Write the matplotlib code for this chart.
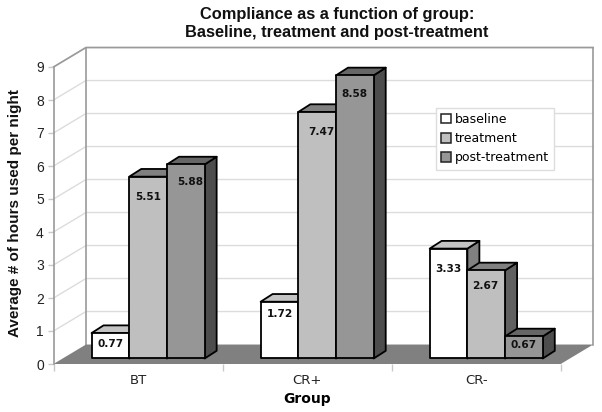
import matplotlib
matplotlib.use('Agg')
import matplotlib.pyplot as plt
from matplotlib.patches import Polygon, Patch

groups = ['BT', 'CR+', 'CR-']
series = ['baseline', 'treatment', 'post-treatment']
baseline = [0.77, 1.72, 3.33]
treatment = [5.51, 7.47, 2.67]
post_treatment = [5.88, 8.58, 0.67]
y_ticks = [0, 1, 2, 3, 4, 5, 6, 7, 8, 9]

# front, top, side shades for each series
shades = [('#ffffff', '#c4c4c4', '#808080'),
          ('#bfbfbf', '#808080', '#606060'),
          ('#969696', '#666666', '#4d4d4d')]

# label nudges in pixels (dx, drop below bar top), by series then group
nudges = [[(0, 11), (0, 12), (0, 20)],
          [(0, 20), (4, 20), (-1, 16)],
          [(4, 18), (0, 19), (0, 9)]]

plt.rcParams['font.family'] = ['Liberation Sans', 'DejaVu Sans']

fig = plt.figure(figsize=(6.02, 4.12), dpi=100)
ax = fig.add_axes([53.5 / 602, 48 / 412, 507.2 / 602, 297 / 412])
ax.set_xlim(0, 3)
ax.set_ylim(0, 9)
ax.patch.set_visible(False)

wall_dx = 0.192
wall_dy = 0.59
bar_dx = 0.071
bar_dy = 0.233
bar_w = 0.223
bar_start = 0.225
bar_base = 0.167

# walls, floor and gridlines
ax.add_patch(Polygon([(0, 0), (wall_dx, wall_dy), (3 + wall_dx, wall_dy), (3, 0)],
                     closed=True, fc='#808080', ec='none', clip_on=False, zorder=1))
for v in y_ticks[1:]:
    ax.plot([0, wall_dx, 3 + wall_dx], [v, v + wall_dy, v + wall_dy],
            color='#dcdcdc', lw=1, clip_on=False, zorder=0.5)
edge = dict(color='#9a9a9a', lw=1.2, clip_on=False, zorder=0.8)
ax.plot([0, wall_dx, 3 + wall_dx], [9, 9 + wall_dy, 9 + wall_dy], **edge)
ax.plot([wall_dx, wall_dx], [wall_dy, 9 + wall_dy], **edge)
ax.plot([3 + wall_dx, 3 + wall_dx], [wall_dy, 9 + wall_dy], **edge)

# bars
for j, values in enumerate([baseline, treatment, post_treatment]):
    front, top, side = shades[j]
    for i, v in enumerate(values):
        x0 = i + bar_start + j * bar_w
        x1 = x0 + bar_w
        y0 = bar_base
        y1 = bar_base + v
        style = dict(closed=True, ec='black', lw=1.3, clip_on=False, zorder=3 + j, joinstyle='round')
        ax.add_patch(Polygon([(x1, y0), (x1 + bar_dx, y0 + bar_dy), (x1 + bar_dx, y1 + bar_dy), (x1, y1)], fc=side, **style))
        ax.add_patch(Polygon([(x0, y1), (x0 + bar_dx, y1 + bar_dy), (x1 + bar_dx, y1 + bar_dy), (x1, y1)], fc=top, **style))
        ax.add_patch(Polygon([(x0, y0), (x1, y0), (x1, y1), (x0, y1)], fc=front, **style))
        dx, drop = nudges[j][i]
        ax.annotate('%.2f' % v, xy=((x0 + x1) / 2, y1), xytext=(dx * 0.72, -drop * 0.72),
                    textcoords='offset points', ha='center', va='center',
                    fontsize=7.6, fontweight='bold', family='DejaVu Sans',
                    color='#111111', zorder=8)

for name in ['top', 'right', 'bottom']:
    ax.spines[name].set_visible(False)
ax.spines['left'].set_color('#9a9a9a')
ax.spines['left'].set_linewidth(1.2)

ax.set_yticks(y_ticks)
ax.set_xticks([0, 1, 2, 3])
ax.set_xticklabels([])
ax.set_xticks([0.5, 1.5, 2.5], minor=True)
ax.set_xticklabels(groups, minor=True, family='DejaVu Sans')
ax.tick_params(axis='x', which='major', length=5, color='#c8c8c8', width=1)
ax.tick_params(axis='x', which='minor', length=0, pad=7, labelsize=9.5, labelcolor='#222222')
ax.tick_params(axis='y', length=4, color='#c8c8c8', width=1, pad=3, labelsize=10, labelcolor='#222222')

ax.set_xlabel('Group', fontsize=10, fontweight='bold', family='DejaVu Sans', labelpad=3.5)
fig.text(15.5 / 602, 1 - 213 / 412, 'Average # of hours used per night', rotation=90,
         ha='center', va='center', fontsize=11, fontweight='bold', color='#111111')
fig.text(337 / 602, 1 - 23.5 / 412, 'Compliance as a function of group:\nBaseline, treatment and post-treatment',
         ha='center', va='center', fontsize=11.8, fontweight='bold', color='#111111', linespacing=1.25)

handles = [Patch(fc=shades[k][0], ec='#222222', lw=1.1) for k in range(3)]
leg = ax.legend(handles, series, loc='upper left', bbox_to_anchor=((436 - 53.5) / 507.2, (364 - 108) / 297),
                borderaxespad=0, prop={'family': 'DejaVu Sans', 'size': 9}, fancybox=False,
                framealpha=1, edgecolor='#dddddd', handlelength=0.8, handleheight=0.8,
                handletextpad=0.3, labelspacing=0.5, borderpad=0.4)
leg.set_zorder(9)
leg.get_frame().set_linewidth(1)

fig.savefig('out.png', dpi=100)
